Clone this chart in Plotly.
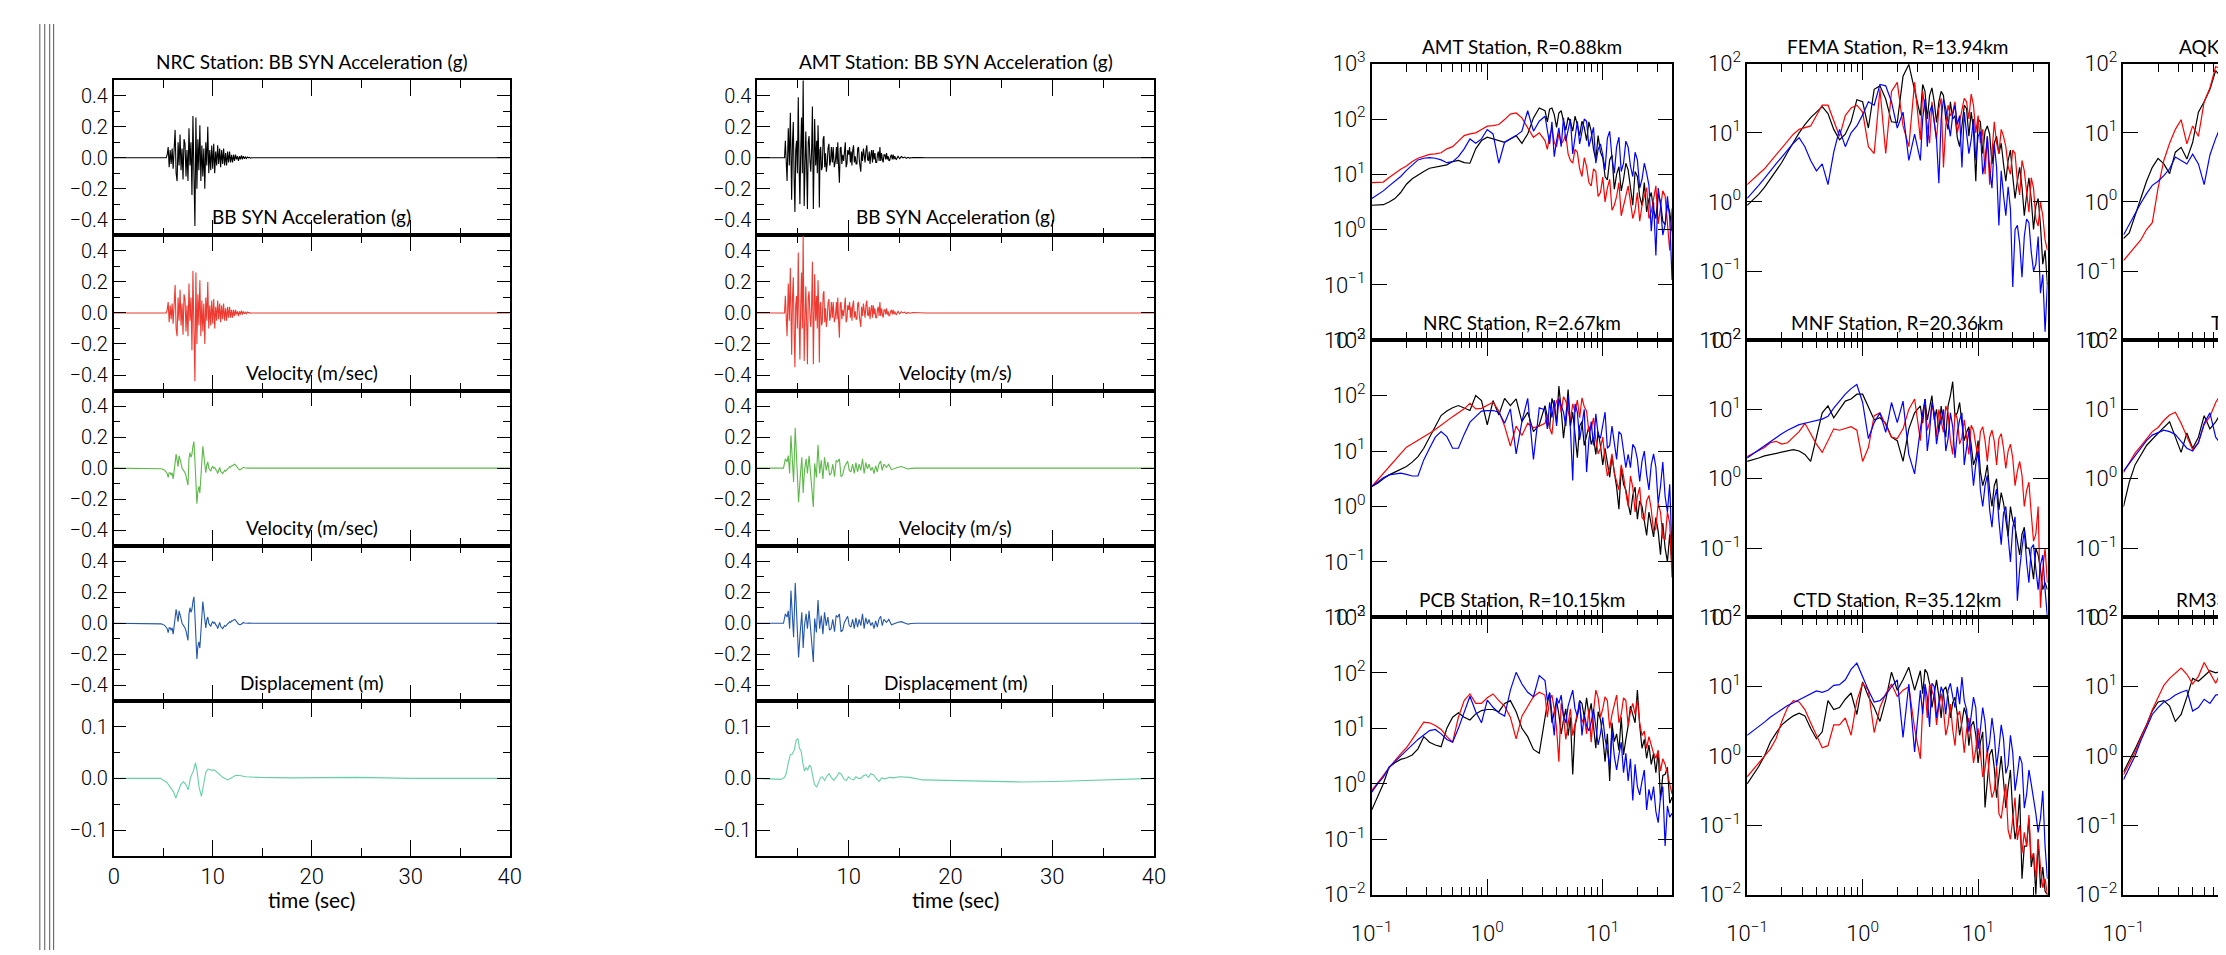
import plotly.graph_objects as go

# ============================ DATA ============================
# ---- NRC station time series (uniform sampling: start time + sample interval) ----
NRC_RECORD = [0.0, 40.0]
NRC_ACC_T0 = 5.3
NRC_ACC_DT = 0.1
NRC_ACC = [0.0, 0.02, 0.07, -0.06, 0.05, -0.04, 0.06, -0.07, 0.12, 0.18,
           -0.10, -0.15, 0.10, -0.05, 0.15, -0.08, 0.06, -0.14, 0.12, 0.09,
           -0.12, 0.05, -0.15, 0.19, -0.05, 0.10, -0.24, 0.27, -0.10, -0.44,
           0.26, -0.20, 0.12, -0.08, 0.21, -0.15, 0.08, -0.12, 0.06, -0.20,
           0.10, -0.05, 0.20, -0.10, 0.05, -0.08, 0.08, -0.07, 0.09, -0.10,
           0.04, -0.05, 0.08, -0.04, 0.06, -0.06, 0.05, -0.04, 0.06, -0.05,
           0.03, -0.05, 0.04, -0.03, 0.04, -0.03, 0.02, -0.03, 0.02, -0.02,
           0.02, -0.01, 0.01, -0.02, 0.01, -0.01, 0.015, -0.01, 0.01, -0.005,
           0.005, -0.005, 0.005, 0.0, 0.003, -0.002, 0.0, 0.0]
NRC_VEL_T0 = 4.5
NRC_VEL_DT = 0.1
NRC_VEL = [0.0, 0.0, -0.002, -0.004, -0.006, -0.008, -0.012, -0.018, -0.025, -0.035,
           -0.06, -0.03, -0.03, -0.045, -0.03, -0.07, -0.02, 0.03, 0.09, 0.05,
           0.01, 0.08, 0.06, 0.03, 0.0, -0.01, -0.02, -0.03, -0.05, -0.08,
           -0.11, 0.06, 0.10, 0.07, 0.09, 0.14, 0.17, 0.05, -0.10, -0.23,
           -0.15, -0.12, -0.16, -0.06, 0.04, 0.14, 0.08, 0.02, -0.03, 0.02,
           0.04, 0.0, -0.01, -0.02, 0.0, 0.01, 0.0, 0.005, -0.01, -0.015,
           -0.035, -0.01, 0.005, -0.02, -0.03, -0.035, -0.025, -0.015, -0.02, -0.01,
           -0.005, 0.0, 0.01, 0.005, 0.015, 0.015, 0.02, 0.025, 0.02, 0.01,
           0.0, -0.005, -0.01, -0.01, -0.005, 0.0, 0.005, 0.002, 0.0, -0.002,
           0.0, 0.001, 0.0, 0.0, 0.0, 0.0]
NRC_DISP_T = [0.0, 4.71, 5.37, 6.04, 6.27, 6.53, 6.77, 7.03, 7.26, 7.53, 7.76, 8.03,
              8.26, 8.42, 8.62, 8.86, 9.09, 9.29, 9.52, 9.85, 10.18, 10.51, 11.01,
              11.51, 11.84, 12.34, 12.84, 13.33, 14.66, 17.98, 24.6, 30.0, 40.0]
NRC_DISP = [0.0, 0.0, -0.008, -0.026, -0.038, -0.026, -0.012, -0.006, -0.011, -0.022,
            0.002, 0.014, 0.030, 0.014, -0.017, -0.035, -0.014, 0.011, 0.018, 0.016,
            0.016, 0.011, 0.002, -0.003, 0.0, 0.006, 0.005, 0.003, 0.002, 0.001,
            0.002, 0.0, 0.0]

# ---- AMT station time series ----
AMT_ACC_T = [1.0, 3.7, 3.78, 3.86, 3.95, 4.07, 4.17, 4.27, 4.40, 4.48, 4.56, 4.64, 4.72,
             4.80, 4.88, 4.96, 5.05, 5.13, 5.21, 5.29, 5.37, 5.45, 5.53, 5.63, 5.71,
             5.79, 5.87, 5.95, 6.03, 6.11, 6.20, 6.28, 6.36, 6.44, 6.53, 6.60, 6.66,
             6.76, 6.86, 6.92, 6.99, 7.06, 7.12, 7.19, 7.25, 7.33, 7.41, 7.49, 7.57,
             7.65, 7.73, 7.81, 7.89, 7.97, 8.06, 8.14, 8.22, 8.30, 8.40, 8.48, 8.59,
             8.70, 8.80, 8.86, 8.93, 9.01, 9.09, 9.17, 9.25, 9.33, 9.42, 9.51, 9.59,
             9.67, 9.75, 9.83, 9.91, 10.01, 10.09, 10.17, 10.25, 10.32, 10.40, 10.48,
             10.56, 10.65, 10.73, 10.81, 10.89, 10.97, 11.05, 11.12, 11.19, 11.27,
             11.36, 11.45, 11.53, 11.61, 11.70, 11.78, 11.86, 11.94, 12.02, 12.10,
             12.18, 12.26, 12.34, 12.42, 12.50, 12.58, 12.66, 12.75, 12.83, 12.91,
             12.99, 13.07, 13.15, 13.23, 13.31, 13.39, 13.47, 13.56, 13.64, 13.72,
             13.80, 13.88, 13.96, 14.04, 14.12, 14.20, 14.28, 14.37, 14.45, 14.53,
             14.61, 14.69, 14.85, 15.01, 15.17, 15.34, 15.50, 15.66, 15.82, 15.98,
             16.3, 16.63, 17.0, 17.6, 40.0]
AMT_ACC = [0.0, 0.0, 0.11, -0.02, -0.15, 0.19, -0.05, 0.29, -0.27, 0.10, 0.23, -0.12, -0.35,
           0.05, 0.11, -0.10, 0.39, -0.05, -0.30, 0.05, 0.26, -0.10, 0.50, -0.31, 0.08,
           0.17, -0.05, -0.33, 0.10, 0.14, -0.02, -0.09, 0.05, 0.33, -0.33, 0.10, 0.25,
           -0.05, 0.11, -0.10, 0.21, 0.02, -0.32, 0.05, 0.07, -0.08, -0.06, 0.12, 0.14,
           -0.06, 0.03, -0.09, -0.04, 0.06, 0.09, -0.05, -0.02, 0.07, -0.03, 0.07, -0.06,
           -0.02, 0.07, -0.04, 0.10, -0.05, -0.16, 0.06, 0.07, -0.04, 0.02, -0.02, 0.08,
           0.10, -0.06, -0.04, 0.05, 0.02, 0.07, -0.03, 0.04, -0.05, 0.05, 0.08,
           -0.03, 0.01, -0.04, -0.04, 0.06, 0.07, -0.02, -0.05, -0.09, 0.04,
           -0.02, 0.06, 0.02, -0.03, 0.05, 0.08, -0.01, -0.02, 0.04, -0.04,
           0.02, 0.05, -0.03, 0.05, -0.01, 0.03, -0.03, -0.03, 0.02, 0.04,
           -0.02, 0.07, -0.02, 0.03, -0.01, -0.03, 0.02, 0.02, -0.01, 0.03,
           -0.01, 0.01, -0.02, -0.015, 0.01, 0.02, -0.01, 0.02, -0.01, 0.01,
           -0.005, -0.01, 0.01, -0.005, 0.008, 0.0, 0.005, -0.004, 0.003, -0.002,
           0.002, 0.0, 0.001, 0.0, 0.0]
AMT_VEL_T = [1.0, 3.6, 3.78, 3.95, 4.07, 4.20, 4.33, 4.46, 4.59, 4.75, 4.92, 5.08, 5.24,
             5.40, 5.53, 5.66, 5.82, 5.95, 6.11, 6.28, 6.40, 6.53, 6.66, 6.83, 6.99,
             7.15, 7.31, 7.47, 7.63, 7.80, 7.96, 8.12, 8.28, 8.44, 8.61, 8.77, 8.93,
             9.09, 9.25, 9.41, 9.58, 9.74, 9.90, 10.06, 10.22, 10.39, 10.55, 10.71,
             10.87, 11.03, 11.19, 11.36, 11.52, 11.68, 11.84, 12.0, 12.17, 12.33,
             12.49, 12.65, 12.81, 12.97, 13.14, 13.30, 13.46, 13.72, 13.94, 14.20,
             14.53, 14.85, 15.17, 15.50, 15.82, 16.15, 16.63, 40.0]
AMT_VEL = [0.0, 0.0, 0.06, 0.04, 0.08, -0.035, 0.21, 0.07, -0.09, 0.26, 0.03, -0.22, -0.06,
           0.07, -0.16, -0.015, 0.06, -0.035, 0.08, -0.06, -0.12, -0.25, 0.03, -0.06, 0.15,
           -0.035, 0.05, -0.07, 0.07, -0.015, 0.04, -0.045, -0.035, 0.025, -0.055, 0.05, 0.04,
           0.06, -0.055, -0.045, 0.005, 0.025, 0.045, -0.015, -0.025, 0.025, -0.035, 0.035,
           -0.025, 0.025, -0.015, 0.06, -0.035, 0.035, -0.005, 0.025, -0.015, 0.005,
           -0.035, 0.015, -0.025, 0.025, 0.045, -0.015, 0.025, 0.005, 0.025, -0.01,
           0.0, 0.006, 0.01, 0.002, -0.006, -0.002, 0.0, 0.0]
AMT_DISP_T = [1.0, 2.39, 3.36, 3.69, 3.85, 4.07, 4.27, 4.46, 4.66, 4.85, 5.01, 5.17, 5.34,
              5.50, 5.66, 5.82, 5.98, 6.15, 6.31, 6.47, 6.63, 6.86, 7.02, 7.25, 7.41,
              7.63, 7.89, 8.09, 8.28, 8.54, 8.80, 9.06, 9.28, 9.51, 9.77, 9.99, 10.22,
              10.48, 10.71, 10.97, 11.19, 11.45, 11.71, 11.94, 12.17, 12.42, 12.75,
              13.0, 13.23, 13.56, 14.04, 14.37, 15.01, 15.98, 17.28, 20.51, 23.75,
              26.99, 30.22, 33.46, 36.7, 38.8, 40.0]
AMT_DISP = [0.0, -0.001, -0.002, 0.002, 0.008, 0.030, 0.046, 0.047, 0.055, 0.074, 0.077,
            0.058, 0.052, 0.030, 0.014, 0.021, 0.016, 0.026, 0.021, 0.005, -0.011, -0.017,
            -0.008, 0.002, 0.003, -0.004, 0.005, 0.009, 0.002, -0.004, 0.003, 0.011, 0.008,
            -0.001, -0.004, 0.003, -0.001, -0.003, 0.003, 0.0, 0.0, 0.005, 0.007, 0.002,
            0.009, 0.007, -0.001, -0.006, 0.001, -0.001, 0.002, 0.001, 0.003, 0.002,
            -0.003, -0.004, -0.006, -0.007, -0.006, -0.004, -0.002, 0.0, 0.0]

# ---- Fourier amplitude spectra: log10(frequency, Hz) grid and log10(amplitude) ----
LOG_F = [-1.00, -0.95, -0.90, -0.85, -0.80, -0.75, -0.70, -0.65, -0.60, -0.55,
         -0.50, -0.45, -0.40, -0.35, -0.30, -0.25, -0.20, -0.15, -0.10, -0.05,
         0.00, 0.05, 0.10, 0.15, 0.20, 0.25, 0.30, 0.35, 0.40, 0.45, 0.50,
         0.54, 0.58, 0.62, 0.66, 0.70, 0.74, 0.78, 0.82, 0.86, 0.90, 0.94, 0.98,
         1.02, 1.06, 1.10, 1.14, 1.18, 1.22, 1.26, 1.30, 1.34, 1.38, 1.42, 1.46,
         1.50, 1.54, 1.58, 1.60]
# extra high-frequency samples (between the main grid points) where the spectra are noisy
LOG_F_HI = [0.52, 0.56, 0.60, 0.64, 0.68, 0.72, 0.76, 0.80, 0.84, 0.88, 0.92, 0.96, 1.00,
            1.04, 1.08, 1.12, 1.16, 1.20, 1.24, 1.28, 1.32, 1.36, 1.40, 1.44, 1.48, 1.52, 1.56]

AMT_BLACK = [0.44, 0.44, 0.45, 0.50, 0.56, 0.67, 0.82, 0.92, 0.99, 1.05, 1.11, 1.13, 1.14, 1.17, 1.23,
             1.25, 1.21, 1.20, 1.46, 1.61, 1.67, 1.64, 1.60, 1.58, 1.64, 1.70, 1.56, 1.73, 2.02, 2.20,
             2.15, 2.18, 2.08, 2.11, 1.96, 2.03, 1.78, 1.90, 1.96, 1.61, 1.78, 1.26, 1.40, 0.96, 1.26,
             0.73, 1.14, 0.91, 1.08, 0.44, 0.96, 0.44, 0.32, 0.67, 0.20, 0.50, 0.09, 0.32, -0.03]
AMT_BLACK_HI = [1.95, 2.20, 1.85, 2.15, 1.80, 1.95, 2.05, 1.70, 1.85, 1.95, 1.45, 1.70, 1.30, 0.90,
                1.35, 1.00, 0.70, 1.20, 0.80, 1.05, 0.60, 0.85, 0.55, 0.35, 0.65, 0.15, 0.45]
AMT_RED = [0.85, 0.85, 0.86, 0.94, 1.02, 1.09, 1.15, 1.23, 1.29, 1.33, 1.36, 1.37, 1.39, 1.46, 1.50,
           1.60, 1.70, 1.73, 1.75, 1.81, 1.87, 1.88, 1.90, 1.99, 2.09, 2.11, 2.02, 1.84, 1.67, 1.75,
           1.61, 1.70, 1.58, 1.74, 1.61, 1.37, 1.20, 1.40, 0.96, 1.14, 0.79, 1.05, 0.67, 0.50, 0.91,
           0.44, 0.85, 0.44, 0.79, 0.20, 0.67, 0.44, 0.76, 0.32, 0.79, 0.44, 0.61, -0.38, 0.38]
AMT_RED_HI = [1.45, 1.82, 1.50, 1.55, 1.72, 1.25, 1.45, 1.10, 1.30, 0.85, 1.10, 0.60, 0.95, 0.75,
              0.35, 0.60, 0.25, 0.65, 0.50, 0.35, 0.15, 0.60, 0.20, 0.55, 0.10, 0.70, 0.10]
AMT_BLUE = [0.56, 0.63, 0.70, 0.79, 0.88, 0.96, 1.07, 1.17, 1.26, 1.29, 1.30, 1.29, 1.26, 1.21, 1.23,
            1.32, 1.46, 1.64, 1.56, 1.64, 1.81, 1.73, 1.20, 1.58, 1.64, 1.70, 1.78, 2.15, 1.78, 1.96,
            2.05, 1.55, 1.32, 1.84, 2.02, 1.78, 1.37, 1.96, 1.78, 1.96, 1.67, 1.20, 1.55, 1.08, 1.78,
            1.02, 1.67, 1.20, 1.49, 0.96, 1.26, 0.91, 1.02, -0.03, -0.47, 0.44, 0.09, 0.20, -0.91]
AMT_BLUE_HI = [1.80, 1.95, 1.60, 1.50, 1.60, 2.00, 1.70, 1.55, 2.00, 1.50, 1.85, 1.45, 1.35, 1.65,
               1.30, 1.50, 1.05, 1.60, 1.15, 1.40, 0.75, 1.20, 0.80, 0.50, 0.75, -0.10, 0.60]

NRC_BLACK = [0.36, 0.42, 0.50, 0.57, 0.62, 0.67, 0.72, 0.80, 0.90, 1.05, 1.25, 1.45, 1.64, 1.72, 1.78,
             1.82, 1.78, 1.73, 2.00, 1.91, 1.47, 1.91, 1.65, 1.95, 1.82, 1.94, 1.53, 1.70, 1.35, 1.47,
             1.82, 1.41, 1.80, 2.17, 1.23, 2.11, 1.70, 0.88, 1.53, 1.30, 1.12, 0.94, 1.10, 1.05, 0.53,
             0.65, -0.05, 0.40, 0.05, 0.20, -0.23, 0.00, -0.52, -0.35, -0.20, -0.87, -0.75, -0.50, -1.10]
NRC_BLACK_HI = [1.60, 1.95, 1.50, 1.75, 1.60, 1.45, 1.30, 1.45, 1.10, 1.45, 1.25, 1.35, 0.75, 0.80,
                0.90, 0.35, 0.70, 0.30, -0.15, 0.35, 0.10, -0.30, -0.10, -0.55, -0.45, -0.30, -1.00]
NRC_RED = [0.36, 0.48, 0.60, 0.72, 0.84, 0.97, 1.07, 1.13, 1.19, 1.25, 1.32, 1.39, 1.47, 1.55, 1.62,
           1.69, 1.76, 1.86, 1.76, 1.77, 1.82, 1.88, 1.72, 1.45, 1.09, 1.45, 1.28, 1.50, 1.42, 1.45,
           1.50, 1.42, 1.75, 1.95, 1.98, 1.72, 1.85, 1.92, 1.96, 1.72, 1.40, 1.20, 1.05, 0.85, 0.70,
           0.60, 0.30, 0.55, 0.00, 0.35, 0.18, -0.20, 0.10, -0.05, -0.40, -0.10, -0.60, -0.30, -1.28]
NRC_RED_HI = [1.65, 1.30, 1.90, 1.70, 1.90, 1.55, 1.70, 1.60, 1.80, 1.35, 1.60, 0.95, 1.25, 0.55,
              0.95, 0.45, 0.75, 0.25, 0.55, -0.10, 0.35, -0.25, 0.20, -0.45, 0.05, -0.55, -0.10]
NRC_BLUE = [0.36, 0.44, 0.52, 0.57, 0.59, 0.60, 0.58, 0.55, 0.55, 0.84, 1.05, 1.25, 1.35, 1.26, 1.05,
            1.05, 1.30, 1.52, 1.62, 1.72, 1.73, 1.73, 1.70, 1.50, 1.76, 0.95, 1.53, 1.95, 0.85, 1.78,
            1.74, 1.88, 1.92, 1.94, 1.70, 2.00, 0.47, 1.70, 1.47, 0.62, 1.53, 1.67, 1.23, 1.70, 1.10,
            1.15, 1.35, 1.00, 0.94, 1.12, 0.85, 0.82, 0.58, 0.75, 0.71, 0.36, 0.18, 0.40, -0.87]
NRC_BLUE_HI = [1.40, 1.60, 1.45, 1.80, 1.45, 1.40, 1.85, 1.20, 1.75, 1.20, 1.10, 1.30, 1.50, 1.05,
               1.45, 0.85, 1.30, 0.70, 0.70, 1.05, 0.45, 1.00, 0.30, 0.95, 0.05, 0.80, -0.10]

PCB_BLACK = [-0.47, -0.22, 0.00, 0.30, 0.38, 0.44, 0.47, 0.52, 0.63, 0.85, 0.75, 0.70, 0.67, 1.00, 1.20,
             1.28, 1.20, 1.15, 1.26, 1.32, 1.34, 1.34, 1.30, 1.45, 1.50, 1.30, 1.00, 0.85, 0.62, 0.55,
             1.20, 1.63, 1.30, 1.25, 1.15, 0.87, 0.17, 1.22, 1.45, 1.55, 1.45, 0.64, 1.16, 0.40, 0.05,
             0.76, 0.60, 0.52, 1.05, 1.22, 1.69, 0.64, 0.46, 0.35, 0.20, -0.29, 0.17, -0.35, -0.24]
PCB_BLACK_HI = [1.45, 1.10, 1.50, 0.90, 1.35, 1.20, 1.05, 1.50, 1.20, 1.25, 1.00, 1.30, 0.85, 0.90,
                1.10, 0.90, 1.20, 0.80, 1.40, 1.10, 1.05, 0.80, 0.70, 0.55, 0.60, 0.15, 0.30]
PCB_RED = [-0.12, 0.02, 0.14, 0.30, 0.42, 0.54, 0.65, 0.80, 0.95, 1.11, 1.10, 1.05, 0.98, 0.85, 0.75,
           1.20, 1.50, 1.62, 1.45, 1.45, 1.55, 1.62, 1.50, 1.40, 1.20, 0.81, 1.22, 1.40, 1.57, 1.65,
           1.60, 1.51, 1.35, 0.40, 1.22, 1.05, 0.87, 1.28, 1.11, 0.90, 0.75, 1.69, 1.20, 1.57, 1.00,
           1.40, 1.10, 1.55, 1.05, 1.45, 1.51, 0.87, 0.64, 0.70, 0.46, 0.23, 0.35, 0.00, -0.18]
PCB_RED_HI = [1.20, 1.60, 1.00, 1.45, 0.80, 1.35, 1.10, 1.40, 1.20, 1.35, 1.30, 1.55, 1.35, 1.50,
              1.25, 1.60, 1.25, 1.50, 1.30, 1.25, 1.10, 0.95, 0.85, 0.55, 0.60, 0.45, 0.20]
PCB_BLUE = [-0.15, 0.00, 0.12, 0.30, 0.40, 0.50, 0.60, 0.70, 0.80, 0.88, 0.96, 0.98, 0.90, 0.80, 0.75,
            1.00, 1.30, 1.58, 1.30, 1.10, 1.51, 1.38, 1.28, 1.22, 1.69, 2.01, 1.80, 1.65, 1.57, 1.95,
            1.86, 1.65, 0.87, 1.45, 1.22, 1.40, 1.69, 1.22, 0.87, 1.05, 1.11, 0.99, 0.90, 0.81, 0.30,
            0.50, 0.52, 0.20, 0.05, -0.30, -0.05, 0.05, -0.47, -0.30, -0.50, -0.24, -1.12, -0.60, -0.53]
PCB_BLUE_HI = [1.50, 1.20, 1.55, 1.60, 1.10, 1.55, 1.35, 1.50, 1.25, 0.95, 1.35, 0.70, 1.20, 0.60,
               0.95, 0.25, 0.75, 0.55, 0.45, 0.35, -0.20, 0.25, -0.10, -0.05, -0.70, -0.05, -0.40]

FEMA_BLACK = [-0.05, 0.03, 0.11, 0.21, 0.33, 0.45, 0.57, 0.72, 0.87, 1.00, 1.12, 1.22, 1.30, 1.38, 1.28,
              1.05, 0.90, 0.98, 1.16, 1.48, 1.45, 1.07, 1.63, 1.68, 1.49, 1.16, 1.15, 1.82, 1.99, 1.60,
              1.25, 1.60, 1.54, 1.45, 1.45, 1.54, 1.05, 1.20, 0.93, 1.15, 1.35, 1.30, 0.30, 1.16, 1.02,
              0.98, 0.85, 0.70, 0.55, 0.60, 0.37, 0.30, 0.22, 0.10, 0.04, -0.06, -0.34, -0.70, -1.19]
FEMA_BLACK_HI = [1.70, 1.20, 1.65, 1.15, 1.60, 1.20, 1.45, 1.25, 0.80, 1.40, 0.95, 1.05, 1.20, 0.70,
                 1.10, 0.55, 0.95, 0.85, 0.30, 0.75, 0.05, 0.50, -0.20, 0.35, -0.40, 0.05, -0.90]
FEMA_RED = [0.25, 0.33, 0.40, 0.48, 0.58, 0.68, 0.78, 0.88, 0.98, 1.05, 1.08, 1.10, 1.25, 1.40, 1.40,
            1.16, 0.95, 1.25, 1.36, 1.40, 1.30, 0.80, 0.70, 1.63, 0.70, 1.60, 1.73, 1.10, 0.80, 1.73,
            0.90, 1.35, 0.85, 1.20, 1.35, 0.50, 1.40, 1.30, 1.00, 1.35, 1.45, 1.56, 1.00, 0.85, 0.40,
            0.25, 1.16, 0.70, 0.95, 0.51, 0.75, 0.30, 0.60, 0.10, 0.35, -0.25, 0.00, -0.55, -0.70]
FEMA_RED_HI = [1.60, 1.10, 1.45, 0.90, 1.50, 1.10, 1.25, 1.45, 1.15, 1.50, 1.20, 1.40, 1.25, 1.05,
               0.95, 0.70, 0.85, 1.05, 0.80, 0.40, 0.70, 0.10, 0.45, -0.15, 0.20, -0.35, -0.20]
FEMA_BLUE = [0.05, 0.14, 0.24, 0.34, 0.45, 0.55, 0.65, 0.75, 0.85, 0.93, 0.80, 0.60, 0.45, 0.55, 0.25,
             0.72, 1.05, 0.80, 1.00, 1.10, 1.26, 1.45, 1.40, 1.70, 1.68, 1.45, 1.07, 1.30, 0.60, 0.98,
             0.60, 1.49, 1.30, 1.16, 0.27, 1.49, 1.16, 1.26, 1.12, 0.50, 1.00, 0.90, 0.60, 1.02, 0.60,
             0.46, 0.84, -0.34, 0.10, 0.22, -1.23, -0.34, -1.09, -0.25, -0.72, -0.90, -1.32, -1.88, -1.18]
FEMA_BLUE_HI = [1.20, 0.80, 1.40, 0.90, 1.20, 1.35, 0.95, 1.40, 1.25, 1.30, 0.70, 1.20, 0.95, 0.40,
                0.95, 0.20, 0.50, 0.45, -0.20, -0.10, -0.40, -0.60, -0.50, -0.30, -1.00, -0.50, -1.05]

MNF_BLACK = [0.25, 0.27, 0.30, 0.33, 0.35, 0.37, 0.39, 0.41, 0.42, 0.40, 0.35, 0.25, 0.60, 0.95, 1.05,
             0.88, 1.00, 1.12, 1.15, 1.22, 1.22, 1.03, 0.85, 0.88, 0.80, 0.60, 0.55, 0.25, 0.72, 0.95,
             1.05, 1.15, 1.05, 0.85, 0.67, 0.80, 1.05, 1.40, 0.95, 0.80, 0.67, 0.49, 0.30, 0.10, 0.02,
             -0.17, -0.10, -0.45, -0.35, -0.83, -0.60, -0.90, -0.80, -1.00, -1.20, -1.00, -1.30, -1.50, -1.60]
MNF_BLACK_HI = [0.80, 0.85, 1.20, 1.00, 1.05, 0.60, 1.20, 0.90, 1.10, 0.55, 0.75, 0.20, 0.55, -0.10,
                0.20, -0.40, 0.00, -0.20, -0.60, -0.40, -0.70, -1.10, -0.70, -1.00, -1.45, -1.10, -1.60]
MNF_RED = [0.32, 0.36, 0.40, 0.45, 0.52, 0.54, 0.50, 0.52, 0.60, 0.68, 0.80, 0.65, 0.50, 0.38, 0.55,
           0.72, 0.70, 0.72, 0.75, 0.70, 0.25, 0.45, 0.91, 0.95, 0.77, 0.60, 0.58, 0.72, 1.00, 1.15,
           0.55, 1.10, 0.82, 0.95, 1.00, 0.67, 0.95, 0.35, 0.86, 0.60, 0.62, 0.77, 0.49, 0.68, 0.55,
           0.60, 0.54, 0.58, 0.44, 0.40, 0.30, 0.11, 0.05, -0.17, -0.50, -0.80, -1.86, -1.00, -1.50]
MNF_RED_HI = [0.95, 0.70, 1.05, 0.60, 0.85, 1.05, 0.55, 0.95, 0.50, 0.85, 0.35, 0.70, 0.30, 0.75,
              0.25, 0.70, 0.20, 0.65, 0.15, 0.50, -0.10, 0.25, -0.40, -0.05, -0.90, -0.40, -1.30]
MNF_BLUE = [0.30, 0.36, 0.41, 0.47, 0.53, 0.59, 0.65, 0.70, 0.74, 0.78, 0.80, 0.82, 0.84, 0.86, 0.90,
            1.02, 1.12, 1.22, 1.30, 1.36, 1.10, 0.58, 0.81, 0.95, 0.67, 1.10, 0.81, 1.12, 0.35, 0.07,
            0.72, 1.15, 0.67, 0.95, 0.72, 1.00, 0.58, 0.75, 0.67, 0.95, 0.49, 0.30, 0.21, -0.17, -0.10,
            -0.45, -0.30, -0.60, -0.50, -0.83, -0.70, -1.76, -1.00, -1.20, -1.00, -1.30, -1.24, -1.60, -2.00]
MNF_BLUE_HI = [0.95, 0.40, 1.10, 0.50, 0.85, 0.40, 0.95, 0.30, 0.85, 0.20, 0.70, -0.10, 0.40, -0.40,
               0.05, -0.70, -0.15, -0.95, -0.40, -1.20, -0.55, -1.30, -0.75, -1.50, -0.95, -1.60, -1.10]

CTD_BLACK = [-0.40, -0.28, -0.15, 0.00, 0.20, 0.33, 0.45, 0.52, 0.58, 0.62, 0.58, 0.40, 0.25, 0.35, 0.80,
             0.67, 0.70, 0.82, 0.91, 0.60, 1.07, 0.86, 0.70, 0.50, 0.81, 1.21, 0.95, 1.10, 1.28, 0.95,
             1.23, 1.25, 1.04, 0.90, 0.86, 0.95, 0.85, 0.77, 0.60, 0.49, 0.58, 0.44, 0.30, 0.20, -0.74,
             0.02, -0.17, -0.25, -0.36, -0.45, -0.83, -1.00, -1.77, -1.30, -1.60, -2.00, -1.90, -1.95, -2.00]
CTD_BLACK_HI = [0.90, 1.20, 0.70, 1.10, 0.55, 1.00, 0.55, 0.85, 0.30, 0.70, 0.15, 0.50, -0.10, 0.35,
                -0.40, 0.10, -0.60, 0.00, -0.75, -0.20, -1.20, -0.55, -1.30, -0.90, -1.40, -1.20, -1.60]
CTD_RED = [-0.30, -0.20, -0.10, 0.00, 0.10, 0.25, 0.50, 0.70, 0.80, 0.78, 0.67, 0.48, 0.30, 0.12, 0.15,
           0.45, 0.45, 0.55, 0.30, 0.80, 1.05, 0.95, 0.34, 0.70, 0.90, 1.04, 0.86, 0.95, 1.00, 0.40,
           -0.04, 1.00, 1.04, 0.85, 0.72, 0.67, 0.45, 0.38, 0.57, 0.40, 0.38, 0.29, 0.10, 0.00, -0.18,
           -0.36, -0.50, -0.83, -0.64, -1.07, -0.90, -1.21, -1.40, -1.30, -1.49, -1.77, -1.60, -1.77, -2.00]
CTD_RED_HI = [0.70, 0.55, 0.95, 0.45, 0.90, 0.30, 0.75, 0.15, 0.65, 0.05, 0.55, -0.10, 0.40, -0.30,
              0.10, -0.60, -0.15, -0.90, -0.40, -1.20, -0.60, -1.00, -1.10, -0.85, -1.40, -1.20, -1.90]
CTD_BLUE = [0.30, 0.36, 0.42, 0.49, 0.56, 0.62, 0.68, 0.73, 0.77, 0.81, 0.85, 0.90, 0.94, 0.92, 0.95,
            1.02, 1.03, 1.10, 1.25, 1.34, 1.14, 0.95, 0.78, 0.80, 0.88, 1.00, 1.10, 0.27, 1.04, 0.06,
            0.95, 1.04, 0.42, 1.00, 0.77, 0.90, 0.95, 0.86, 1.00, 1.14, 0.67, 0.58, 0.70, 0.39, 0.49,
            0.20, 0.30, 0.11, 0.25, -0.13, 0.05, -0.27, -0.10, -0.55, -0.40, -0.83, -0.90, -1.30, -1.77]
CTD_BLUE_HI = [0.60, 0.85, 1.05, 0.55, 1.00, 0.60, 1.05, 0.70, 0.75, 0.80, 0.35, 0.85, 0.10, 0.70,
               0.05, 0.55, -0.15, 0.45, -0.25, 0.30, -0.50, 0.00, -0.75, -0.20, -0.60, -1.10, -0.50]

# third column (only the low-frequency end falls inside the picture)
AQK_BLACK = [-0.53, -0.45, -0.20, 0.05, 0.30, 0.50, 0.63, 0.55, 0.41, 0.72, 0.79, 0.62, 0.86, 1.30, 1.45, 1.63, 1.90, 1.80]
AQK_RED = [-0.85, -0.75, -0.65, -0.55, -0.40, -0.30, 0.20, 0.60, 0.85, 1.05, 1.19, 0.84, 1.10, 0.95, 1.45, 1.65, 1.96, 1.92]
AQK_BLUE = [-0.48, -0.32, -0.18, -0.02, 0.12, 0.24, 0.30, 0.38, 0.48, 0.65, 0.60, 0.55, 0.69, 0.55, 0.25, 0.68, 0.92, 1.12]
TRE_BLACK = [-0.40, -0.05, 0.20, 0.35, 0.48, 0.57, 0.66, 0.74, 0.82, 0.60, 0.38, 0.66, 0.44, 0.60, 0.91, 0.72, 0.82, 0.96]
TRE_RED = [0.09, 0.24, 0.37, 0.47, 0.58, 0.68, 0.74, 0.84, 0.92, 0.96, 0.80, 0.60, 0.42, 0.52, 0.78, 0.90, 1.10, 1.24]
TRE_BLUE = [0.11, 0.22, 0.33, 0.43, 0.55, 0.63, 0.67, 0.70, 0.68, 0.64, 0.54, 0.44, 0.40, 0.52, 0.80, 0.95, 0.60, 0.49]
RM33_BLACK = [-0.23, -0.07, 0.10, 0.28, 0.45, 0.65, 0.78, 0.80, 0.72, 0.50, 0.60, 0.85, 1.12, 1.08, 1.15, 1.23, 1.20, 1.23]
RM33_RED = [-0.27, -0.12, 0.05, 0.26, 0.45, 0.67, 0.85, 1.02, 1.12, 1.20, 1.27, 1.18, 1.04, 1.15, 1.35, 1.20, 1.05, 1.23]
RM33_BLUE = [-0.34, -0.18, 0.00, 0.22, 0.40, 0.60, 0.70, 0.78, 0.82, 0.88, 0.92, 0.95, 0.65, 0.70, 0.82, 0.76, 0.88, 0.90]

NRC_TITLES = ["NRC Station: BB SYN Acceleration (g)", "BB SYN Acceleration (g)",
              "Velocity (m/sec)", "Velocity (m/sec)", "Displacement (m)"]
AMT_TITLES = ["AMT Station: BB SYN Acceleration (g)", "BB SYN Acceleration (g)",
              "Velocity (m/s)", "Velocity (m/s)", "Displacement (m)"]
SPEC_TITLES_1 = ["AMT Station, R=0.88km", "NRC Station, R=2.67km", "PCB Station, R=10.15km"]
SPEC_TITLES_2 = ["FEMA Station, R=13.94km", "MNF Station, R=20.36km", "CTD Station, R=35.12km"]
SPEC_TITLES_3 = ["AQK Station", "TRE Station", "RM33 Station"]

DECADE_F = [0.1, 1, 10]
DECADE_F_TEXT = ["10<sup>\u22121</sup>", "10<sup>0</sup>", "10<sup>1</sup>"]
MINOR_F = [0.2, 0.3, 0.4, 0.5, 0.6, 0.7, 0.8, 0.9, 2, 3, 4, 5, 6, 7, 8, 9, 20, 30]

# ============================ STYLE / LAYOUT ============================
W, H = 2226, 955
TXT = "Lato, Roboto, Liberation Sans, sans-serif"
NUM = "Roboto, Lato, Liberation Sans, sans-serif"
C_BLACK = "#000000"
C_RED = "#ee3a30"
C_GREEN = "#5cb848"
C_BLUE = "#2356a8"
C_DISP = "#66cfa6"
S_RED = "#ff0000"
S_BLUE = "#0000ff"

fig = go.Figure()
layout = dict(width=W, height=H, margin=dict(l=0, r=0, t=0, b=0),
              paper_bgcolor="white", plot_bgcolor="white", showlegend=False)
annotations = []
counter = [0]


def new_axes(xd, yd, xprops, yprops):
    counter[0] += 1
    n = counter[0]
    sx = "" if n == 1 else str(n)
    layout["xaxis" + sx] = dict(domain=[xd[0] / W, xd[1] / W], anchor="y" + sx, **xprops)
    layout["yaxis" + sx] = dict(domain=[1 - yd[1] / H, 1 - yd[0] / H], anchor="x" + sx, **yprops)
    return "x" + sx, "y" + sx


def common_line():
    return dict(showline=True, linecolor="black", linewidth=1.5, showgrid=False, zeroline=False,
                ticks="inside", tickcolor="black", tickwidth=1.3)


def time_x(rng, labels):
    d = common_line()
    d.update(range=rng, mirror="ticks", ticklen=16, tick0=0, dtick=10,
             showticklabels=labels, tickfont=dict(family=NUM, size=22, color="black", weight=300),
             minor=dict(ticks="inside", ticklen=8, tickwidth=1.3, tickcolor="black", tick0=0, dtick=5))
    return d


def time_y(lim, major, minor):
    d = common_line()
    d.update(range=[-lim, lim], mirror="ticks", ticklen=13, tick0=0, dtick=major, tickformat=".1f",
             tickfont=dict(family=NUM, size=20, color="black", weight=300),
             minor=dict(ticks="inside", ticklen=7, tickwidth=1.3, tickcolor="black", tick0=0, dtick=minor))
    return d


def spec_x(rng, labels):
    d = common_line()
    d.update(type="log", range=rng, mirror="ticks", ticklen=16, tickmode="array",
             tickvals=DECADE_F, ticktext=DECADE_F_TEXT, showticklabels=labels, ticklabelstandoff=18,
             tickfont=dict(family=NUM, size=22, color="black", weight=300),
             minor=dict(ticks="inside", ticklen=8, tickwidth=1.3, tickcolor="black", tickvals=MINOR_F))
    return d


def spec_y(top, mirror=True):
    d = common_line()
    vals = [10.0 ** k for k in range(-2, top + 1)]
    txt = ["10<sup>%s</sup>" % (("\u2212%d" % -k) if k < 0 else str(k)) for k in range(-2, top + 1)]
    d.update(type="log", range=[-2, top], mirror="ticks" if mirror else False, ticklen=15,
             tickmode="array", tickvals=vals, ticktext=txt,
             tickfont=dict(family=NUM, size=22, color="black", weight=300))
    return d


def title(text, xc, yc, anchor="center", size=19):
    annotations.append(dict(text=text, x=xc / W, y=1 - yc / H, xref="paper", yref="paper",
                            xanchor=anchor, yanchor="middle", showarrow=False,
                            font=dict(family=TXT, size=size, color="black", weight=400)))


# ---- time-series columns ----
PANEL_TOPS = [58, 218, 378, 538, 698]
PANEL_H = 160


def time_column(x0, x1, rng, acc_t, acc, vel_t, vel, disp_t, disp, titles):
    series = [(acc_t, acc, C_BLACK, 0.5), (acc_t, acc, C_RED, 0.5),
              (vel_t, vel, C_GREEN, 0.5), (vel_t, vel, C_BLUE, 0.5),
              (disp_t, disp, C_DISP, 0.15)]
    for k, (tt, vv, col, lim) in enumerate(series):
        top = PANEL_TOPS[k]
        ya = time_y(0.5, 0.2, 0.1) if lim == 0.5 else time_y(0.15, 0.1, 0.05)
        xr, yr = new_axes((x0, x1), (top, top + PANEL_H), time_x(rng, k == 4), ya)
        fig.add_trace(go.Scatter(x=tt, y=vv, mode="lines", xaxis=xr, yaxis=yr,
                                 line=dict(color=col, width=1.1), hoverinfo="skip"))
        title(titles[k], (x0 + x1) / 2, top - 19)
    title("time (sec)", (x0 + x1) / 2, 903, size=21)


nrc_acc_t = NRC_RECORD[:1] + [NRC_ACC_T0 + i * NRC_ACC_DT for i in range(len(NRC_ACC))] + NRC_RECORD[1:]
nrc_acc_v = [0.0] + NRC_ACC + [0.0]
nrc_vel_t = NRC_RECORD[:1] + [NRC_VEL_T0 + i * NRC_VEL_DT for i in range(len(NRC_VEL))] + NRC_RECORD[1:]
nrc_vel_v = [0.0] + NRC_VEL + [0.0]

time_column(86, 488, [0, 40], nrc_acc_t, nrc_acc_v, nrc_vel_t, nrc_vel_v, NRC_DISP_T, NRC_DISP, NRC_TITLES)
time_column(739, 1142, [1, 40], AMT_ACC_T, AMT_ACC, AMT_VEL_T, AMT_VEL, AMT_DISP_T, AMT_DISP, AMT_TITLES)

# ---- spectra columns ----
SPEC_TOPS = [41, 326, 612]
SPEC_BOTS = [326, 612, 898]


def merged(vals, hi):
    pts = list(zip(LOG_F[:len(vals)], vals))
    if hi is not None:
        pts += list(zip(LOG_F_HI, hi))
    pts.sort()
    return [10.0 ** p[0] for p in pts], [10.0 ** p[1] for p in pts]


def spec_panel(x0, x1, xr_log, row, top_dec, curves, ttl, mirror_y=True, title_anchor="center", title_x=None):
    xr, yr = new_axes((x0, x1), (SPEC_TOPS[row], SPEC_BOTS[row]),
                      spec_x(xr_log, row == 2), spec_y(top_dec, mirror_y))
    for vals, hi, col in curves:
        fx, ay = merged(vals, hi)
        fig.add_trace(go.Scatter(x=fx, y=ay, mode="lines", xaxis=xr, yaxis=yr,
                                 line=dict(color=col, width=1.2), hoverinfo="skip"))
    tx = (x0 + x1) / 2 if title_x is None else title_x
    title(ttl, tx, SPEC_TOPS[row] - 18, anchor=title_anchor)


col1 = [((AMT_BLACK, AMT_BLACK_HI), (AMT_RED, AMT_RED_HI), (AMT_BLUE, AMT_BLUE_HI)),
        ((NRC_BLACK, NRC_BLACK_HI), (NRC_RED, NRC_RED_HI), (NRC_BLUE, NRC_BLUE_HI)),
        ((PCB_BLACK, PCB_BLACK_HI), (PCB_RED, PCB_RED_HI), (PCB_BLUE, PCB_BLUE_HI))]
col2 = [((FEMA_BLACK, FEMA_BLACK_HI), (FEMA_RED, FEMA_RED_HI), (FEMA_BLUE, FEMA_BLUE_HI)),
        ((MNF_BLACK, MNF_BLACK_HI), (MNF_RED, MNF_RED_HI), (MNF_BLUE, MNF_BLUE_HI)),
        ((CTD_BLACK, CTD_BLACK_HI), (CTD_RED, CTD_RED_HI), (CTD_BLUE, CTD_BLUE_HI))]
col3 = [((AQK_BLACK, None), (AQK_RED, None), (AQK_BLUE, None)),
        ((TRE_BLACK, None), (TRE_RED, None), (TRE_BLUE, None)),
        ((RM33_BLACK, None), (RM33_RED, None), (RM33_BLUE, None))]
XR_FULL = [-1.0, 1.602]
XR_CUT = [-1.0, -1.0 + 100.0 / 117.0]
COL3_TITLE_X = [2180, 2213, 2177]
COLORS = [C_BLACK, S_RED, S_BLUE]

for r in range(3):
    spec_panel(1363, 1668, XR_FULL, r, 3,
               [(v, h, c) for (v, h), c in zip(col1[r], COLORS)], SPEC_TITLES_1[r])
    spec_panel(1744, 2049, XR_FULL, r, 2,
               [(v, h, c) for (v, h), c in zip(col2[r], COLORS)], SPEC_TITLES_2[r])
    spec_panel(2126, 2226, XR_CUT, r, 2,
               [(v, h, c) for (v, h), c in zip(col3[r], COLORS)], SPEC_TITLES_3[r],
               mirror_y=False, title_anchor="left", title_x=COL3_TITLE_X[r])

# ---- page frame lines at the left edge ----
shapes = []
for xpx in [11, 16, 21, 25]:
    shapes.append(dict(type="line", xref="paper", yref="paper", x0=xpx / W, x1=xpx / W, y0=0, y1=1,
                       line=dict(color="#555555", width=1)))

layout["annotations"] = annotations
layout["shapes"] = shapes
fig.update_layout(**layout)
fig.write_html("out.html", config={"displayModeBar": False})
